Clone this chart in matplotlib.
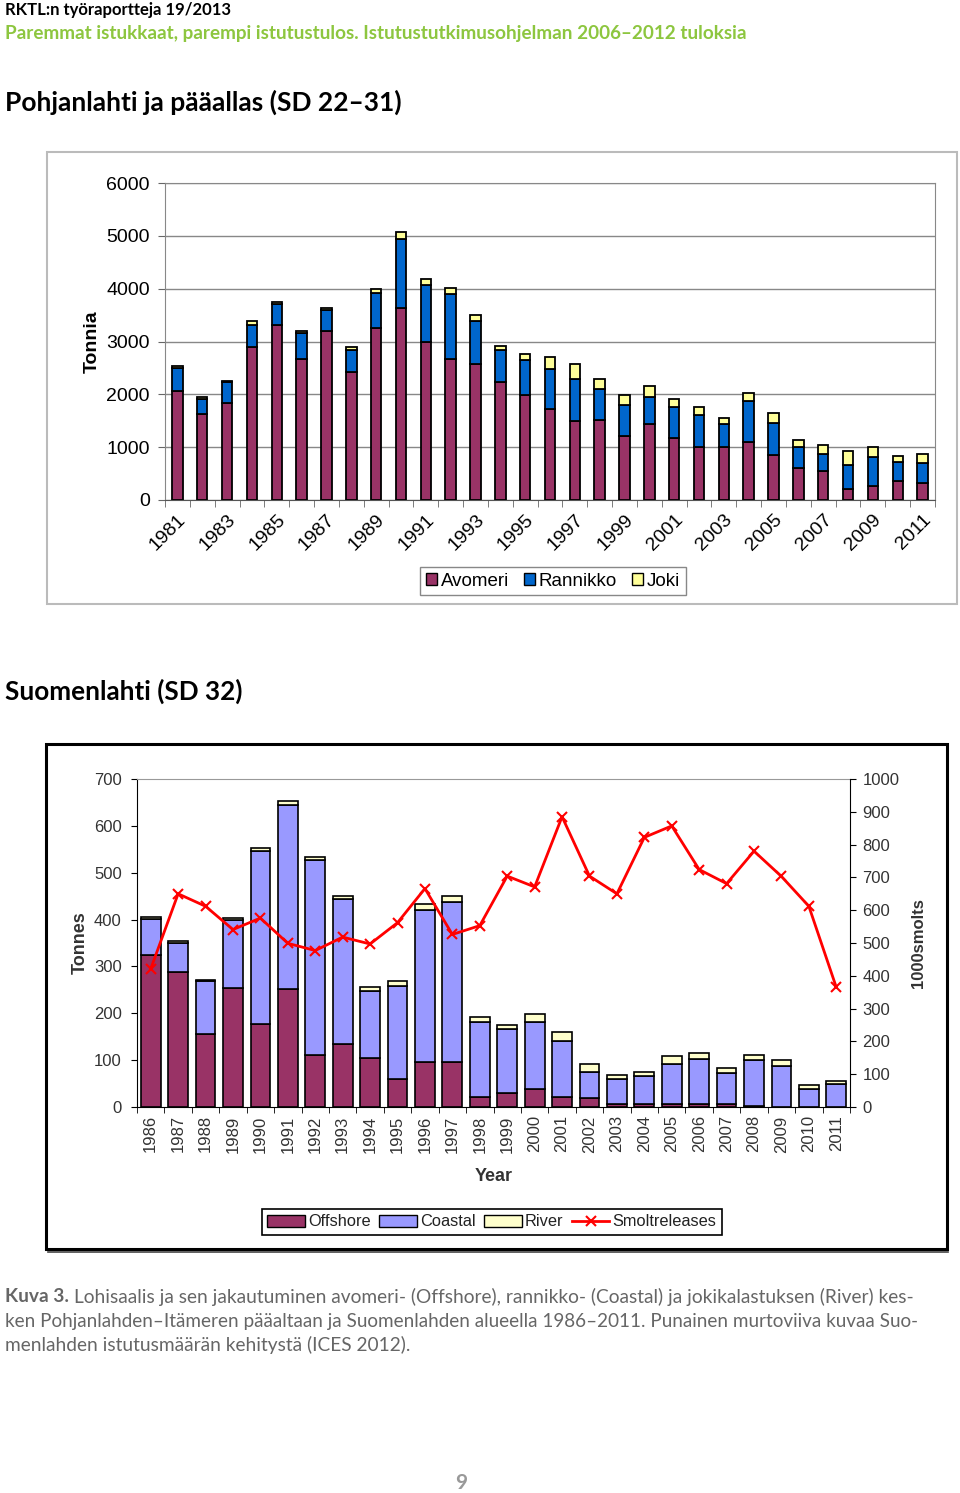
import numpy as np
import matplotlib
matplotlib.use('Agg')
import matplotlib.pyplot as plt
from matplotlib.patches import Rectangle, Patch
from matplotlib.lines import Line2D

# --- data: Pohjanlahti ja pääallas (tonnes) ---
years_top = list(range(1981, 2012))
avomeri = [2060, 1620, 1840, 2900, 3320, 2660, 3190, 2420, 3260, 3630, 2990, 2660, 2570, 2240, 1980, 1720,
           1500, 1515, 1220, 1445, 1175, 1010, 1000, 1105, 845, 610, 550, 200, 270, 355, 315]
rannikko = [445, 295, 390, 420, 385, 495, 400, 425, 660, 1315, 1080, 1240, 825, 590, 670, 765,
            790, 585, 580, 505, 580, 600, 435, 765, 615, 400, 325, 465, 540, 370, 390]
joki = [30, 30, 30, 60, 40, 35, 40, 50, 65, 125, 120, 110, 110, 85, 115, 215,
        280, 195, 180, 200, 160, 145, 115, 150, 180, 120, 165, 255, 185, 115, 170]

# --- data: Suomenlahti (tonnes, 1000 smolts) ---
years_bot = list(range(1986, 2012))
offshore = [325, 288, 156, 254, 178, 251, 111, 134, 104, 59, 95, 95, 21, 30, 38, 22, 20, 6, 6, 6, 6, 6, 2, 1, 1, 1]
coastal = [77, 63, 113, 146, 368, 394, 416, 309, 143, 200, 326, 342, 161, 137, 144, 119, 55, 54, 61, 86, 97,
           66, 98, 86, 38, 49]
river = [3, 3, 2, 3, 7, 9, 7, 7, 10, 10, 13, 13, 10, 8, 16, 18, 17, 9, 8, 16, 12, 11, 12, 14, 8, 5]
smolts = [421, 650, 612, 541, 576, 499, 477, 518, 497, 562, 666, 526, 553, 704, 671, 885, 704, 650, 822, 857,
          724, 681, 780, 703, 612, 365]

W, H = 960, 1493
fig = plt.figure(figsize=(W / 100, H / 100), dpi=100)
body = 'Lato'
arial = 'Liberation Sans'


def fx(px):
    return px / W


def fy(py):
    return 1 - py / H


# header texts
fig.text(fx(5), fy(10), 'RKTL:n työraportteja 19/2013', fontsize=12, fontweight='bold', family=body,
         va='center', ha='left')
fig.text(fx(5), fy(33), 'Paremmat istukkaat, parempi istutustulos. Istutustutkimusohjelman 2006–2012 tuloksia',
         fontsize=13.6, fontweight='bold', family=body, color='#8dc63f', va='center', ha='left')
fig.text(fx(5), fy(102), 'Pohjanlahti ja pääallas (SD 22–31)', fontsize=19, fontweight='bold', family=body,
         va='center', ha='left')
fig.text(fx(5), fy(691), 'Suomenlahti (SD 32)', fontsize=18.8, fontweight='bold', family=body,
         va='center', ha='left')

# --- top chart ---
fig.patches.append(Rectangle((fx(47), fy(604)), fx(910), 452 / H, transform=fig.transFigure,
                             fill=False, edgecolor='#bbbbbb', lw=1.5))
ax1 = fig.add_axes([fx(165), fy(500), fx(770), 317 / H])
x1 = np.arange(len(years_top))
a = np.array(avomeri)
r = np.array(rannikko)
j = np.array(joki)
bw = 0.42
ax1.bar(x1, a, bw, color='#993366', edgecolor='black', lw=1.3, zorder=3)
ax1.bar(x1, r, bw, bottom=a, color='#0066cc', edgecolor='black', lw=1.3, zorder=3)
ax1.bar(x1, j, bw, bottom=a + r, color='#ffff99', edgecolor='black', lw=1.3, zorder=3)
ax1.set_xlim(-0.5, len(years_top) - 0.5)
ax1.set_ylim(0, 6000)
ax1.set_yticks(np.arange(0, 6001, 1000))
ax1.yaxis.grid(True, color='#888888', lw=1)
ax1.set_axisbelow(True)
ax1.set_xticks(x1[::2])
ax1.set_xticklabels([str(y) for y in years_top[::2]], rotation=45, ha='right', va='top',
                    rotation_mode='anchor', fontsize=14, family=arial)
ax1.set_xticks(np.arange(-0.5, len(years_top), 1), minor=True)
ax1.tick_params(axis='x', which='major', length=0, pad=8)
ax1.tick_params(axis='x', which='minor', length=5, color='#666666')
ax1.tick_params(axis='y', length=5, color='#666666', labelsize=14, pad=6)
for lab in ax1.get_yticklabels():
    lab.set_family(arial)
for s in ax1.spines.values():
    s.set_color('#888888')
ax1.spines['bottom'].set_color('#555555')
ax1.set_ylabel('Tonnia', fontsize=14, fontweight='bold', family=arial, labelpad=4)
h_top = [Patch(facecolor='#993366', edgecolor='black', lw=1),
         Patch(facecolor='#0066cc', edgecolor='black', lw=1),
         Patch(facecolor='#ffff99', edgecolor='black', lw=1)]
leg1 = fig.legend(h_top, ['Avomeri', 'Rannikko', 'Joki'], loc='center', bbox_to_anchor=(fx(553), fy(581)),
                  ncol=3, prop={'family': arial, 'size': 13.5}, handlelength=0.6, handleheight=0.6,
                  handletextpad=0.2, columnspacing=0.8, fancybox=False, edgecolor='#888888',
                  borderpad=0.3, framealpha=1)
leg1.get_frame().set_linewidth(1)

# --- bottom chart ---
fig.patches.append(Rectangle((fx(46), fy(1249)), fx(901), 505 / H, transform=fig.transFigure,
                             fill=False, edgecolor='black', lw=2.2))
fig.lines.append(Line2D([fx(48), fx(948)], [fy(1252), fy(1252)], transform=fig.transFigure,
                        color='#444444', lw=1.2))
ax2 = fig.add_axes([fx(137), fy(1107), fx(713), 328 / H])
x2 = np.arange(len(years_bot))
o = np.array(offshore)
c = np.array(coastal)
rv = np.array(river)
bw2 = 0.72
ax2.bar(x2, o, bw2, color='#993366', edgecolor='black', lw=1.2, zorder=2)
ax2.bar(x2, c, bw2, bottom=o, color='#9999ff', edgecolor='black', lw=1.2, zorder=2)
ax2.bar(x2, rv, bw2, bottom=o + c, color='#ffffcc', edgecolor='black', lw=1.2, zorder=2)
ax2.set_xlim(-0.5, len(years_bot) - 0.5)
ax2.set_ylim(0, 700)
ax2.set_yticks(np.arange(0, 701, 100))
ax2.set_xticks(x2)
ax2.set_xticklabels([str(y) for y in years_bot], rotation=90, fontsize=12, family=arial, color='#333333')
ax2.set_xticks(np.arange(-0.5, len(years_bot), 1), minor=True)
ax2.tick_params(axis='x', which='major', length=0, pad=6)
ax2.tick_params(axis='x', which='minor', length=4)
ax2.tick_params(axis='y', length=4, labelsize=12, labelcolor='#333333', pad=7)
for lab in ax2.get_yticklabels():
    lab.set_family(arial)
ax2.spines['top'].set_color('#999999')
ax2.spines['right'].set_visible(False)
ax2.set_ylabel('Tonnes', fontsize=13, fontweight='bold', family=arial, color='#333333', labelpad=4)
ax2.set_xlabel('Year', fontsize=13, fontweight='bold', family=arial, color='#333333', labelpad=11)

ax3 = ax2.twinx()
ax3.plot(x2, smolts, color='red', lw=2, marker='x', markersize=7, markeredgewidth=1.5, zorder=5)
ax3.set_ylim(0, 1000)
ax3.set_yticks(np.arange(0, 1001, 100))
ax3.tick_params(axis='y', length=4, labelsize=12, labelcolor='#333333', pad=5)
for lab in ax3.get_yticklabels():
    lab.set_family(arial)
for k in ['top', 'left', 'bottom']:
    ax3.spines[k].set_visible(False)
ax3.set_ylabel('1000smolts', fontsize=12, fontweight='bold', family=arial, color='#333333', labelpad=8)

h_bot = [Patch(facecolor='#993366', edgecolor='black', lw=1),
         Patch(facecolor='#9999ff', edgecolor='black', lw=1),
         Patch(facecolor='#ffffcc', edgecolor='black', lw=1),
         Line2D([], [], color='red', lw=2, marker='x', markersize=7, markeredgewidth=1.5)]
leg2 = fig.legend(h_bot, ['Offshore', 'Coastal', 'River', 'Smoltreleases'], loc='center',
                  bbox_to_anchor=(fx(492), fy(1222)), ncol=4, prop={'family': arial, 'size': 11.8},
                  handlelength=2.3, handleheight=0.7, handletextpad=0.2, columnspacing=0.5,
                  fancybox=False, edgecolor='black', borderpad=0.35, framealpha=1)
leg2.get_frame().set_linewidth(1.2)
for t in leg2.get_texts():
    t.set_color('#222222')

# --- caption ---
cap_col = '#666666'
fig.canvas.draw()
rend = fig.canvas.get_renderer()
k = fig.text(fx(5), fy(1297), 'Kuva 3.', fontsize=13.8, fontweight='bold', family=body, color=cap_col,
             va='center', ha='left')
bb = k.get_window_extent(renderer=rend)
fig.text(bb.x1 / W + fx(5), fy(1297),
         'Lohisaalis ja sen jakautuminen avomeri- (Offshore), rannikko- (Coastal) ja jokikalastuksen (River) kes-',
         fontsize=13.8, family=body, color=cap_col, va='center', ha='left')
fig.text(fx(5), fy(1321),
         'ken Pohjanlahden–Itämeren pääaltaan ja Suomenlahden alueella 1986–2011. Punainen murtoviiva kuvaa Suo-',
         fontsize=13.6, family=body, color=cap_col, va='center', ha='left')
fig.text(fx(5), fy(1345), 'menlahden istutusmäärän kehitystä (ICES 2012).',
         fontsize=13.8, family=body, color=cap_col, va='center', ha='left')
fig.text(fx(461), fy(1483), '9', fontsize=15, fontweight='bold', family=body, color='#999999',
         va='center', ha='center')

fig.savefig('out.png', dpi=100)
